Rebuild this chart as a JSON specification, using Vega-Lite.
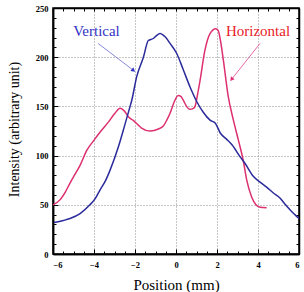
{
  "$schema": "https://vega.github.io/schema/vega-lite/v6.json",
  "width": 246,
  "height": 246,
  "autosize": {"type": "none"},
  "padding": {"left": 53, "top": 8, "right": 5, "bottom": 38},
  "background": "white",
  "config": {
    "view": {"stroke": "black", "strokeWidth": 1.5},
    "font": "Times New Roman, Liberation Serif, Times, serif",
    "axis": {
      "domainColor": "black",
      "domainWidth": 1.5,
      "tickColor": "black",
      "tickWidth": 1,
      "labelFont": "Times New Roman, Liberation Serif, Times, serif",
      "labelFontWeight": "bold",
      "labelFontSize": 8.5,
      "labelColor": "black",
      "titleFont": "Times New Roman, Liberation Serif, Times, serif",
      "titleFontWeight": "normal",
      "titleFontSize": 14,
      "titleColor": "black"
    }
  },
  "datasets": {
    "profiles": [
      {"series": "Horizontal", "pos": -6.0, "intensity": 50},
      {"series": "Horizontal", "pos": -5.66, "intensity": 55},
      {"series": "Horizontal", "pos": -5.4, "intensity": 63},
      {"series": "Horizontal", "pos": -5.17, "intensity": 72},
      {"series": "Horizontal", "pos": -4.9, "intensity": 82},
      {"series": "Horizontal", "pos": -4.68, "intensity": 90},
      {"series": "Horizontal", "pos": -4.36, "intensity": 105},
      {"series": "Horizontal", "pos": -3.99, "intensity": 116},
      {"series": "Horizontal", "pos": -3.62, "intensity": 126},
      {"series": "Horizontal", "pos": -3.3, "intensity": 134},
      {"series": "Horizontal", "pos": -2.98, "intensity": 143},
      {"series": "Horizontal", "pos": -2.73, "intensity": 148},
      {"series": "Horizontal", "pos": -2.55, "intensity": 146},
      {"series": "Horizontal", "pos": -2.3, "intensity": 139},
      {"series": "Horizontal", "pos": -2.1, "intensity": 136},
      {"series": "Horizontal", "pos": -1.84, "intensity": 131},
      {"series": "Horizontal", "pos": -1.68, "intensity": 128},
      {"series": "Horizontal", "pos": -1.27, "intensity": 125},
      {"series": "Horizontal", "pos": -0.86, "intensity": 127},
      {"series": "Horizontal", "pos": -0.62, "intensity": 130},
      {"series": "Horizontal", "pos": -0.45, "intensity": 136},
      {"series": "Horizontal", "pos": -0.29, "intensity": 143},
      {"series": "Horizontal", "pos": -0.1, "intensity": 154},
      {"series": "Horizontal", "pos": 0.11, "intensity": 161},
      {"series": "Horizontal", "pos": 0.25, "intensity": 160},
      {"series": "Horizontal", "pos": 0.36, "intensity": 156},
      {"series": "Horizontal", "pos": 0.55, "intensity": 149},
      {"series": "Horizontal", "pos": 0.68, "intensity": 147},
      {"series": "Horizontal", "pos": 0.85, "intensity": 148},
      {"series": "Horizontal", "pos": 0.93, "intensity": 150},
      {"series": "Horizontal", "pos": 1.05, "intensity": 162},
      {"series": "Horizontal", "pos": 1.17, "intensity": 176},
      {"series": "Horizontal", "pos": 1.41, "intensity": 207},
      {"series": "Horizontal", "pos": 1.66, "intensity": 224},
      {"series": "Horizontal", "pos": 1.94, "intensity": 229},
      {"series": "Horizontal", "pos": 2.06, "intensity": 227},
      {"series": "Horizontal", "pos": 2.2, "intensity": 213},
      {"series": "Horizontal", "pos": 2.31, "intensity": 197},
      {"series": "Horizontal", "pos": 2.55, "intensity": 160},
      {"series": "Horizontal", "pos": 2.8, "intensity": 136},
      {"series": "Horizontal", "pos": 3.04, "intensity": 116},
      {"series": "Horizontal", "pos": 3.28, "intensity": 95},
      {"series": "Horizontal", "pos": 3.45, "intensity": 75},
      {"series": "Horizontal", "pos": 3.69, "intensity": 58},
      {"series": "Horizontal", "pos": 3.9, "intensity": 50},
      {"series": "Horizontal", "pos": 4.1, "intensity": 47.5},
      {"series": "Horizontal", "pos": 4.42, "intensity": 47},
      {"series": "Vertical", "pos": -5.95, "intensity": 32},
      {"series": "Vertical", "pos": -5.5, "intensity": 34},
      {"series": "Vertical", "pos": -5.17, "intensity": 36},
      {"series": "Vertical", "pos": -4.68, "intensity": 41},
      {"series": "Vertical", "pos": -4.2, "intensity": 50},
      {"series": "Vertical", "pos": -3.95, "intensity": 56},
      {"series": "Vertical", "pos": -3.71, "intensity": 65},
      {"series": "Vertical", "pos": -3.45, "intensity": 74},
      {"series": "Vertical", "pos": -3.22, "intensity": 85},
      {"series": "Vertical", "pos": -2.81, "intensity": 109},
      {"series": "Vertical", "pos": -2.5, "intensity": 131},
      {"series": "Vertical", "pos": -2.24, "intensity": 150},
      {"series": "Vertical", "pos": -2.16, "intensity": 156},
      {"series": "Vertical", "pos": -1.92, "intensity": 180},
      {"series": "Vertical", "pos": -1.59, "intensity": 200},
      {"series": "Vertical", "pos": -1.35, "intensity": 217},
      {"series": "Vertical", "pos": -1.11, "intensity": 219},
      {"series": "Vertical", "pos": -0.95, "intensity": 222},
      {"series": "Vertical", "pos": -0.78, "intensity": 224},
      {"series": "Vertical", "pos": -0.6, "intensity": 222},
      {"series": "Vertical", "pos": -0.54, "intensity": 221},
      {"series": "Vertical", "pos": -0.29, "intensity": 214},
      {"series": "Vertical", "pos": 0.03, "intensity": 204},
      {"series": "Vertical", "pos": 0.36, "intensity": 187},
      {"series": "Vertical", "pos": 0.68, "intensity": 170},
      {"series": "Vertical", "pos": 1.01, "intensity": 155},
      {"series": "Vertical", "pos": 1.33, "intensity": 144},
      {"series": "Vertical", "pos": 1.66, "intensity": 136},
      {"series": "Vertical", "pos": 1.92, "intensity": 133},
      {"series": "Vertical", "pos": 2.16, "intensity": 123},
      {"series": "Vertical", "pos": 2.45, "intensity": 117},
      {"series": "Vertical", "pos": 2.73, "intensity": 111},
      {"series": "Vertical", "pos": 3.12, "intensity": 99},
      {"series": "Vertical", "pos": 3.37, "intensity": 92},
      {"series": "Vertical", "pos": 3.77, "intensity": 79},
      {"series": "Vertical", "pos": 4.1, "intensity": 73},
      {"series": "Vertical", "pos": 4.42, "intensity": 68},
      {"series": "Vertical", "pos": 4.75, "intensity": 62},
      {"series": "Vertical", "pos": 5.07, "intensity": 57},
      {"series": "Vertical", "pos": 5.3, "intensity": 51},
      {"series": "Vertical", "pos": 5.56, "intensity": 45},
      {"series": "Vertical", "pos": 5.8, "intensity": 40},
      {"series": "Vertical", "pos": 6.0, "intensity": 36}
    ],
    "callouts": [
      {"series": "Vertical", "tx": -3.88, "ty": 221.5, "ax": -3.8, "ay": 214, "bx": -2.1, "by": 187},
      {"series": "Horizontal", "tx": 4.0, "ty": 221.5, "ax": 4.1, "ay": 214, "bx": 2.73, "by": 178}
    ]
  },
  "resolve": {
    "axis": {"x": "independent", "y": "independent"},
    "scale": {"color": "independent"}
  },
  "layer": [
    {
      "data": {"name": "profiles"},
      "mark": {"type": "line", "interpolate": "monotone", "strokeWidth": 1.5, "clip": true},
      "encoding": {
        "x": {
          "field": "pos", "type": "quantitative",
          "scale": {"domain": [-6, 6], "nice": false, "zero": false},
          "axis": {
            "orient": "bottom", "title": "Position (mm)",
            "values": [-6, -4, -2, 0, 2, 4, 6], "format": "d",
            "ticks": false, "labelPadding": 6,
            "grid": true, "gridDash": [1, 2], "gridColor": "#8c8c8c", "gridWidth": 1,
            "titleFontSize": 15, "titleBaseline": "alphabetic", "titleY": 35
          }
        },
        "y": {
          "field": "intensity", "type": "quantitative",
          "scale": {"domain": [0, 250], "nice": false},
          "axis": {
            "orient": "left", "title": "Intensity (arbitrary unit)",
            "values": [0, 50, 100, 150, 200, 250],
            "ticks": false, "labelPadding": 5,
            "grid": true, "gridDash": [1, 2], "gridColor": "#8c8c8c", "gridWidth": 1,
            "titleBaseline": "alphabetic", "titleX": -35, "titleY": 121
          }
        },
        "color": {
          "field": "series", "type": "nominal",
          "scale": {"domain": ["Vertical", "Horizontal"], "range": ["#2a2a9c", "#dc3070"]},
          "legend": null
        },
        "detail": {"field": "series"}
      }
    },
    {
      "data": {"name": "callouts"},
      "mark": {"type": "rule", "strokeWidth": 1},
      "encoding": {
        "x": {
          "field": "ax", "type": "quantitative",
          "axis": {
            "orient": "bottom", "title": null, "labels": false, "grid": false,
            "values": [-6, -5.5, -5, -4.5, -4, -3.5, -3, -2.5, -2, -1.5, -1, -0.5, 0, 0.5, 1, 1.5, 2, 2.5, 3, 3.5, 4, 4.5, 5, 5.5, 6],
            "tickSize": -3
          }
        },
        "y": {
          "field": "ay", "type": "quantitative",
          "axis": {
            "orient": "left", "title": null, "labels": false, "grid": false,
            "values": [0, 10, 20, 30, 40, 50, 60, 70, 80, 90, 100, 110, 120, 130, 140, 150, 160, 170, 180, 190, 200, 210, 220, 230, 240, 250],
            "tickSize": -3
          }
        },
        "x2": {"field": "bx"},
        "y2": {"field": "by"},
        "color": {
          "field": "series", "type": "nominal",
          "scale": {"domain": ["Vertical", "Horizontal"], "range": ["#8a8ad8", "#e46aa4"]},
          "legend": null
        }
      }
    },
    {
      "data": {"name": "callouts"},
      "mark": {"type": "text", "font": "Times New Roman, Liberation Serif, Times, serif", "fontSize": 15, "baseline": "alphabetic", "align": "center"},
      "encoding": {
        "x": {
          "field": "tx", "type": "quantitative",
          "axis": {
            "orient": "top", "title": null, "labels": false, "grid": false,
            "values": [-6, -5.5, -5, -4.5, -4, -3.5, -3, -2.5, -2, -1.5, -1, -0.5, 0, 0.5, 1, 1.5, 2, 2.5, 3, 3.5, 4, 4.5, 5, 5.5, 6],
            "tickSize": -3
          }
        },
        "y": {
          "field": "ty", "type": "quantitative",
          "axis": {
            "orient": "right", "title": null, "labels": false, "grid": false,
            "values": [0, 10, 20, 30, 40, 50, 60, 70, 80, 90, 100, 110, 120, 130, 140, 150, 160, 170, 180, 190, 200, 210, 220, 230, 240, 250],
            "tickSize": -3
          }
        },
        "text": {"field": "series"},
        "color": {
          "field": "series", "type": "nominal",
          "scale": {"domain": ["Vertical", "Horizontal"], "range": ["#3232c4", "#e82028"]},
          "legend": null
        }
      }
    },
    {
      "data": {"name": "callouts"},
      "transform": [{"filter": "datum.series === 'Vertical'"}],
      "mark": {"type": "point", "shape": "triangle", "filled": true, "size": 22, "angle": 128, "color": "#3232c4", "opacity": 1},
      "encoding": {
        "x": {
          "field": "bx", "type": "quantitative",
          "axis": {"orient": "bottom", "title": null, "labels": false, "grid": false, "domain": false,
                   "values": [-6, -4, -2, 0, 2, 4, 6], "tickSize": -5}
        },
        "y": {
          "field": "by", "type": "quantitative",
          "axis": {"orient": "left", "title": null, "labels": false, "grid": false, "domain": false,
                   "values": [0, 50, 100, 150, 200, 250], "tickSize": -5}
        }
      }
    },
    {
      "data": {"name": "callouts"},
      "transform": [{"filter": "datum.series === 'Horizontal'"}],
      "mark": {"type": "point", "shape": "triangle", "filled": true, "size": 22, "angle": 218, "color": "#e0307a", "opacity": 1},
      "encoding": {
        "x": {"field": "bx", "type": "quantitative", "axis": null},
        "y": {"field": "by", "type": "quantitative", "axis": null}
      }
    }
  ]
}
